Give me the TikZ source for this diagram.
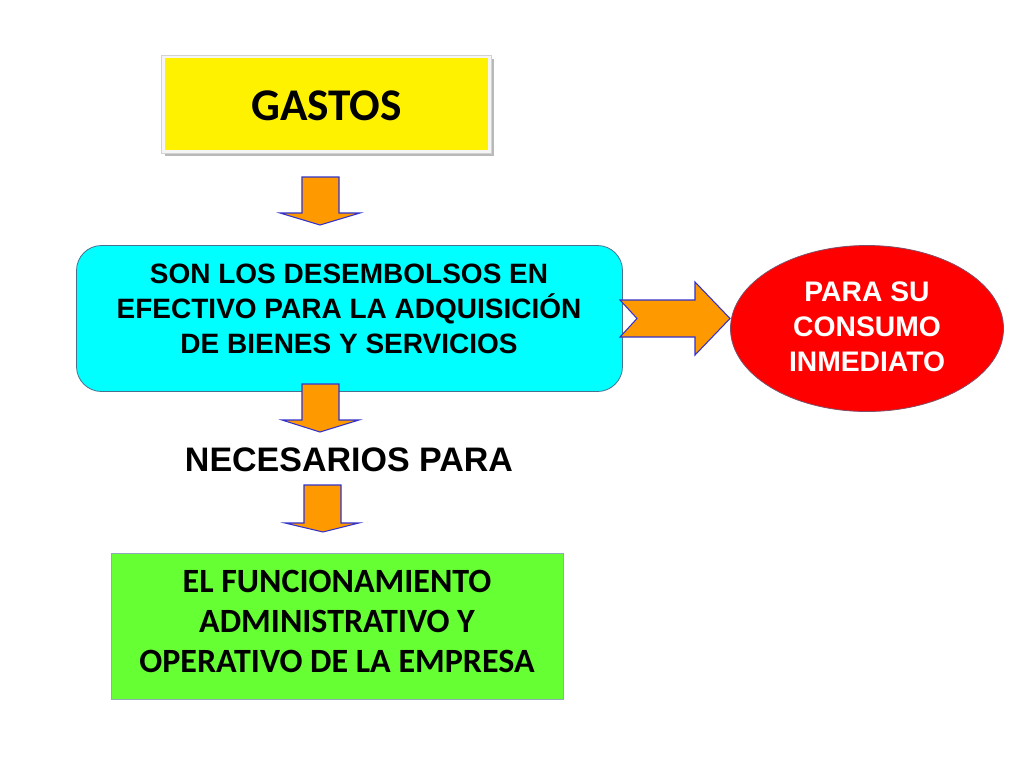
\documentclass[tikz,border=0pt]{standalone}
\usepackage{fontspec}
\setmainfont{Liberation Sans}
\newfontfamily\calib{Carlito}
\usetikzlibrary{shapes.geometric}
\definecolor{arrowfill}{HTML}{FF9900}
\definecolor{arrowline}{HTML}{3333CC}
\definecolor{cyanfill}{HTML}{00FFFF}
\definecolor{greenfill}{HTML}{66FF33}
\definecolor{redfill}{HTML}{FF0000}
\definecolor{boxline}{HTML}{4A7090}
\tikzset{
  blockarrow/.style={fill=arrowfill, draw=arrowline, line width=0.8pt, line join=miter},
  arialtxt/.style={font=\fontsize{21}{26.5}\selectfont\bfseries, align=center},
}
\begin{document}
\begin{tikzpicture}[x=0.75pt, y=-0.75pt]
\useasboundingbox (0,0) rectangle (1024,768);
\fill[white] (0,0) rectangle (1024,768);

% GASTOS box
\fill[gray!55] (165,59) rectangle (494,156);
\filldraw[fill=gray!8, draw=gray!35, line width=0.5pt] (161,55) rectangle (491,153);
\fill[yellow] (165,58) rectangle (488,150);
\node (gastos) at (326.5,106) {\calib\fontsize{34}{38}\selectfont\bfseries GASTOS};

% arrow 1
\draw[blockarrow] (302,177) -- (339,177) -- (339,213) -- (360,213) -- (320,225) -- (280,213) -- (302,213) -- cycle;

% cyan box
\node[draw=boxline, fill=cyanfill, line width=0.6pt, rounded corners=25*0.75pt,
      minimum width=546*0.75pt, minimum height=146*0.75pt, inner sep=0pt] (def) at (349.5,318.5) {};
\node[arialtxt] (deftxt) at (349,309) {SON LOS DESEMBOLSOS EN\\EFECTIVO PARA LA ADQUISICIÓN\\DE BIENES Y SERVICIOS};

% right notched arrow
\draw[blockarrow] (620,300) -- (695,300) -- (695,282) -- (730,318.5) -- (695,355) -- (695,337) -- (620,337) -- (637,318.5) -- cycle;

% red ellipse
\node[ellipse, draw=boxline!70!red, fill=redfill, line width=0.6pt,
      minimum width=273*0.75pt, minimum height=166*0.75pt, inner sep=0pt] (consumo) at (867,328.5) {};
\node[font=\fontsize{21.2}{26.3}\selectfont\bfseries, align=center, text=white] (constxt) at (867,327) {PARA SU\\CONSUMO\\INMEDIATO};

% arrow 2
\draw[blockarrow] (302,384) -- (339,384) -- (339,420) -- (359,420) -- (320,432) -- (282,420) -- (302,420) -- cycle;

% NECESARIOS PARA
\node[font=\fontsize{25.5}{30}\selectfont\bfseries] (nec) at (349,460) {NECESARIOS PARA};

% arrow 3
\draw[blockarrow] (304,485) -- (341,485) -- (341,523) -- (359,523) -- (323,532) -- (285,523) -- (304,523) -- cycle;

% green box
\node[draw=boxline!60, fill=greenfill, line width=0.6pt,
      minimum width=452*0.75pt, minimum height=146*0.75pt, inner sep=0pt] (func) at (337,626) {};
\node[font=\calib\fontsize{25.5}{30}\selectfont\bfseries, align=center] (functxt) at (337,621) {EL FUNCIONAMIENTO\\ADMINISTRATIVO Y\\OPERATIVO DE LA EMPRESA};
\end{tikzpicture}
\end{document}
